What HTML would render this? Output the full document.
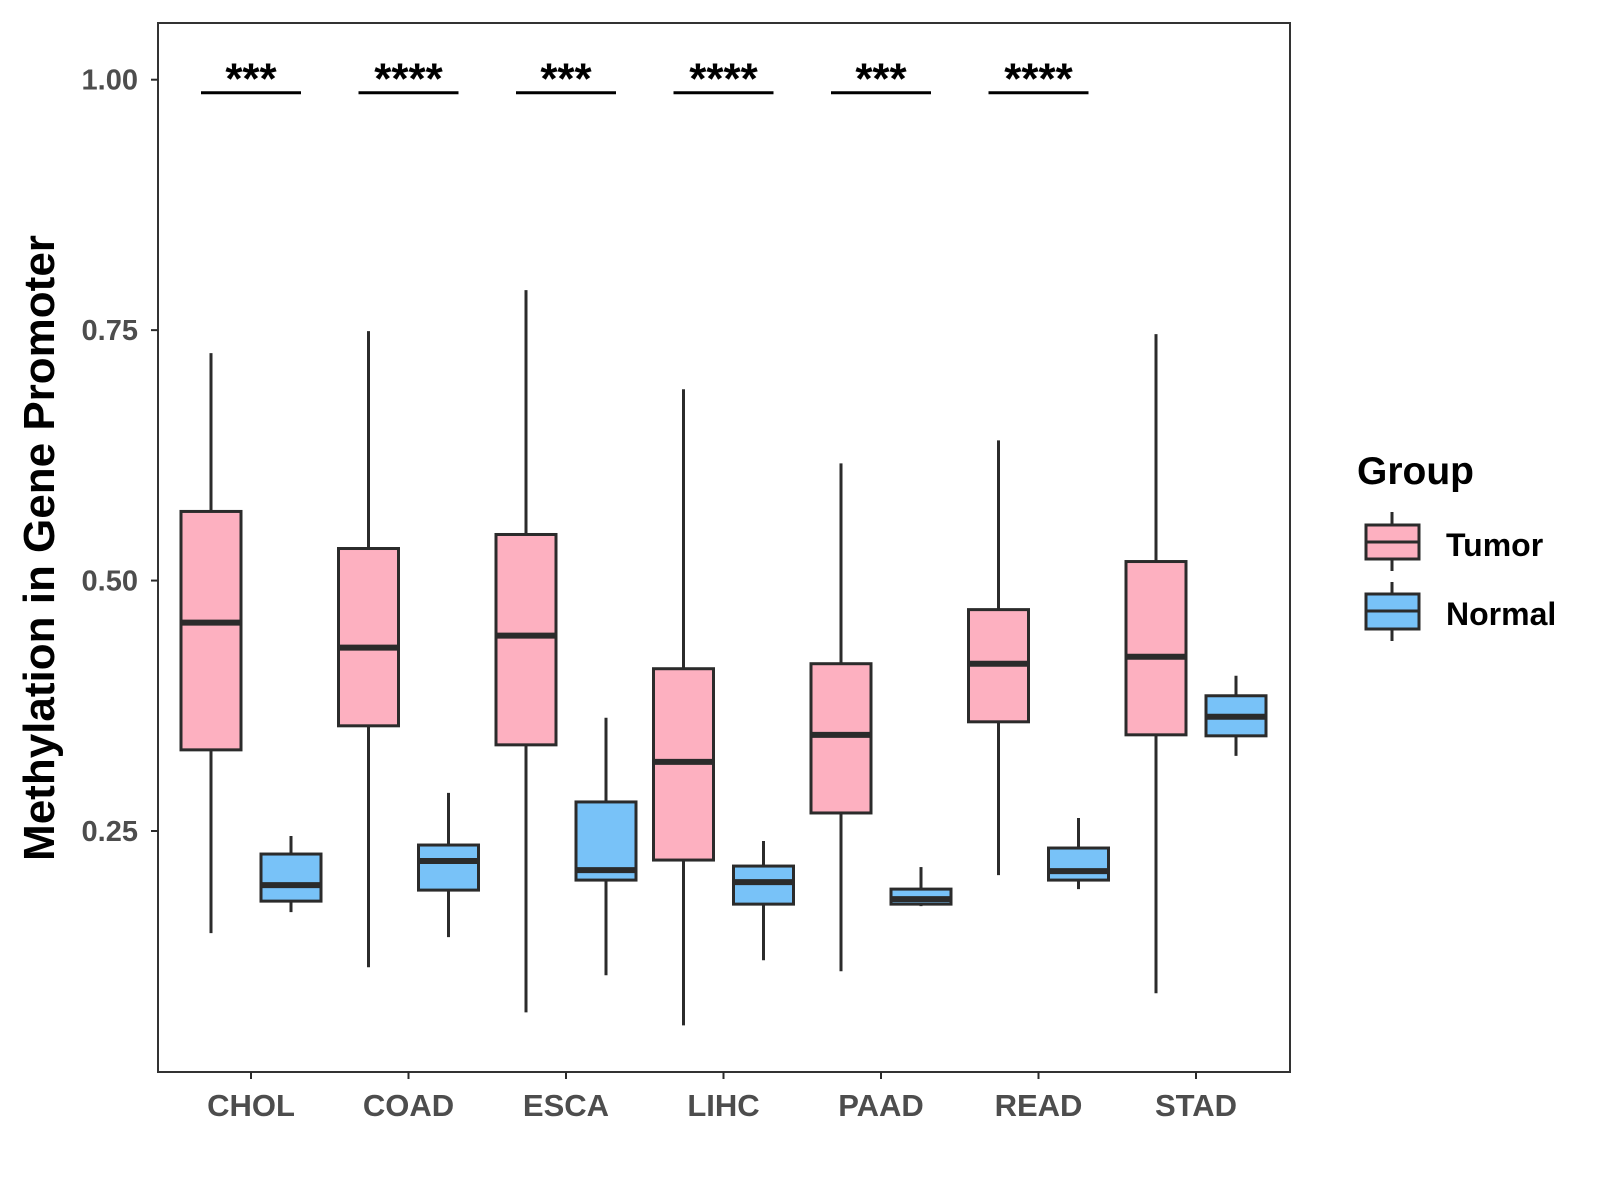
<!DOCTYPE html>
<html><head><meta charset="utf-8"><style>
html,body{margin:0;padding:0;background:#fff;width:1600px;height:1200px;overflow:hidden}
text{font-family:"Liberation Sans",sans-serif;font-weight:bold}
</style></head><body>
<svg id="chart" width="1600" height="1200" viewBox="0 0 1600 1200">
<rect x="0" y="0" width="1600" height="1200" fill="#fff"/>
<rect x="158" y="23" width="1132" height="1049" fill="none" stroke="#333" stroke-width="2"/>
<g id="marks"></g>
<text transform="translate(54,548) rotate(-90)" text-anchor="middle" font-size="44" fill="#000">Methylation in Gene Promoter</text>
<g>
<text x="1357" y="484" font-size="39" fill="#000">Group</text>
<line x1="1392" y1="512" x2="1392" y2="525" stroke="#2b2b2b" stroke-width="3"/>
<line x1="1392" y1="559" x2="1392" y2="571" stroke="#2b2b2b" stroke-width="3"/>
<rect x="1366" y="525" width="53" height="34" fill="#FDB0C0" stroke="#2b2b2b" stroke-width="3"/>
<line x1="1366" y1="542" x2="1419" y2="542" stroke="#2b2b2b" stroke-width="3"/>
<text x="1446" y="556" font-size="32" fill="#000">Tumor</text>
<line x1="1392" y1="582" x2="1392" y2="594" stroke="#2b2b2b" stroke-width="3"/>
<line x1="1392" y1="629" x2="1392" y2="641" stroke="#2b2b2b" stroke-width="3"/>
<rect x="1366" y="594" width="53" height="35" fill="#78C2F8" stroke="#2b2b2b" stroke-width="3"/>
<line x1="1366" y1="611" x2="1419" y2="611" stroke="#2b2b2b" stroke-width="3"/>
<text x="1446" y="625" font-size="32" fill="#000">Normal</text>
</g>
</svg>
<script>
const categories=["CHOL","COAD","ESCA","LIHC","PAAD","READ","STAD"];
const tumorMax=[0.727,0.749,0.790,0.691,0.617,0.640,0.746];
const tumorQ3=[0.569,0.532,0.546,0.412,0.417,0.471,0.519];
const tumorMed=[0.458,0.433,0.445,0.319,0.346,0.417,0.424];
const tumorQ1=[0.331,0.355,0.336,0.221,0.268,0.359,0.346];
const tumorMin=[0.148,0.114,0.069,0.056,0.110,0.206,0.088];
const normalMax=[0.245,0.288,0.363,0.240,0.214,0.263,0.405];
const normalQ3=[0.227,0.236,0.279,0.215,0.192,0.233,0.385];
const normalMed=[0.196,0.220,0.211,0.199,0.182,0.210,0.364];
const normalQ1=[0.180,0.191,0.201,0.177,0.177,0.201,0.345];
const normalMin=[0.169,0.144,0.106,0.121,0.175,0.192,0.325];
const sigLabels=["***","****","***","****","***","****",""];
const yTicks=[0.25,0.5,0.75,1.0];
const yTickLabels=["0.25","0.50","0.75","1.00"];
const sigY=0.987;

const NS="http://www.w3.org/2000/svg";
const g=document.getElementById('marks');
function y(v){return 831-(v-0.25)*(751.3/0.75);}
function x(i){return 251+i*157.5;}
function el(tag,attrs,parent){const e=document.createElementNS(NS,tag);for(const k in attrs)e.setAttribute(k,attrs[k]);(parent||g).appendChild(e);return e;}
const dark="#2b2b2b";
yTicks.forEach((t,i)=>{
  const l=el('line',{x1:151,x2:158,y1:y(t),y2:y(t),stroke:dark,'stroke-width':2});
  
  
  const tx=el('text',{x:138,y:y(t)+10,'text-anchor':'end','font-size':29,fill:'#4d4d4d'});
  tx.textContent=yTickLabels[i];
  
  
});
categories.forEach((c,i)=>{
  const l=el('line',{x1:x(i),x2:x(i),y1:1072,y2:1079,stroke:dark,'stroke-width':2});
  
  
  const tx=el('text',{x:x(i),y:1116,'text-anchor':'middle','font-size':31,fill:'#4d4d4d'});
  tx.textContent=c;
  
  
  function box(cx,mx,q3,md,q1,mn,fill,name){
    const grp=el('g',{});
    
    
    el('line',{x1:cx,x2:cx,y1:y(mx),y2:y(mn),stroke:dark,'stroke-width':3},grp);
    el('rect',{x:cx-30,y:y(q3),width:60,height:y(q1)-y(q3),fill:fill,stroke:dark,'stroke-width':3},grp);
    el('line',{x1:cx-30,x2:cx+30,y1:y(md),y2:y(md),stroke:dark,'stroke-width':6},grp);
  }
  box(x(i)-40,tumorMax[i],tumorQ3[i],tumorMed[i],tumorQ1[i],tumorMin[i],'#FDB0C0','box-tumor-'+c.toLowerCase());
  box(x(i)+40,normalMax[i],normalQ3[i],normalMed[i],normalQ1[i],normalMin[i],'#78C2F8','box-normal-'+c.toLowerCase());
  if(sigLabels[i]){
    const sl=el('line',{x1:x(i)-50,x2:x(i)+50,y1:y(sigY),y2:y(sigY),stroke:'#000','stroke-width':3});
    
    
    const st=el('text',{x:x(i),y:y(sigY)+1,'text-anchor':'middle','font-size':44,fill:'#000'});
    st.textContent=sigLabels[i];
    
    
  }
});
</script>
</body></html>
